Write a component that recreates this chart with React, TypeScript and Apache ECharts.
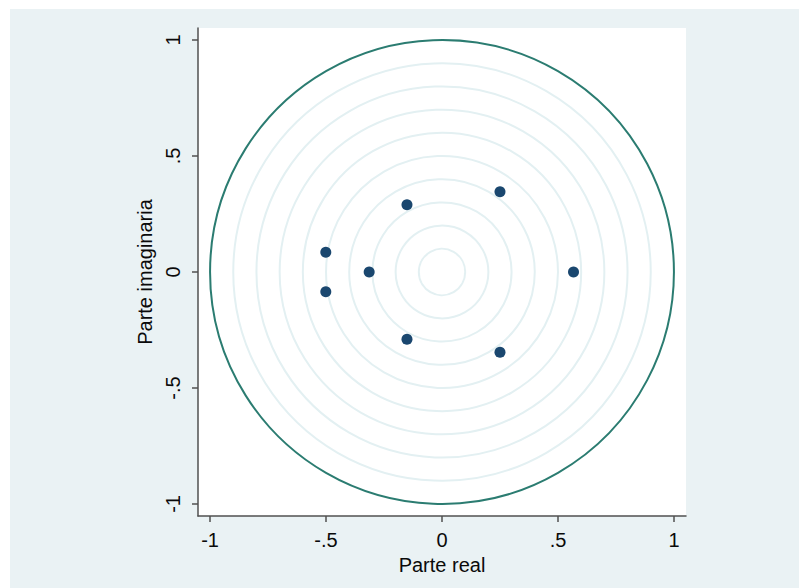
import React, { useEffect, useRef } from "react";
import * as echarts from "echarts";

const realParts = [0.567, 0.25, 0.25, -0.151, -0.151, -0.314, -0.501, -0.501];
const imagParts = [0, 0.346, -0.346, 0.29, -0.29, 0, 0.085, -0.085];
const gridRadii = [0.1, 0.2, 0.3, 0.4, 0.5, 0.6, 0.7, 0.8, 0.9];
const unitRadius = [1];
const tickValues = [-1, -0.5, 0, 0.5, 1];
const tickLabels = ["-1", "-.5", "0", ".5", "1"];

const FONT = "'Liberation Sans', Arial, Helvetica, sans-serif";

function fmt(v: number) {
  const i = tickValues.findIndex((t) => Math.abs(t - v) < 1e-9);
  return i >= 0 ? tickLabels[i] : "";
}

function circleSeries(radii: number[], color: string, width: number, z: number) {
  return {
    type: "custom",
    coordinateSystem: "cartesian2d",
    silent: true,
    z,
    data: radii.map((r) => [r, 0]),
    renderItem: (params: any, api: any) => {
      const c = api.coord([0, 0]);
      const r = api.size([api.value(0), 0])[0];
      return {
        type: "circle",
        shape: { cx: c[0], cy: c[1], r },
        style: { fill: "none", stroke: color, lineWidth: width },
      };
    },
  };
}

export default function App() {
  const ref = useRef<HTMLDivElement>(null);
  useEffect(() => {
    if (!ref.current) return;
    const chart = echarts.init(ref.current, null, { renderer: "svg" });
    const axisCommon = {
      type: "value",
      min: -1.052,
      max: 1.052,
      splitLine: { show: false },
      axisLine: { show: true, onZero: false, lineStyle: { color: "#505050", width: 1.5 } },
      axisTick: {
        show: true,
        customValues: tickValues,
        length: 6,
        lineStyle: { color: "#505050", width: 1.5 },
      },
      nameLocation: "middle",
      nameTextStyle: { fontFamily: FONT, fontSize: 20, color: "#0a0a0a" },
    };
    chart.setOption({
      animation: false,
      backgroundColor: "transparent",
      graphic: [
        {
          type: "rect",
          z: -10,
          silent: true,
          shape: { x: 10, y: 9, width: 789, height: 579 },
          style: { fill: "#eaf2f4" },
        },
      ],
      grid: {
        left: 198,
        top: 28,
        width: 488,
        height: 488,
        show: true,
        backgroundColor: "#ffffff",
        borderWidth: 0,
      },
      xAxis: {
        ...axisCommon,
        position: "bottom",
        name: "Parte real",
        nameGap: 35,
        axisLabel: {
          customValues: tickValues,
          formatter: fmt,
          margin: 14,
          fontFamily: FONT,
          fontSize: 20,
          color: "#0a0a0a",
        },
      },
      yAxis: {
        ...axisCommon,
        position: "left",
        name: "Parte imaginaria",
        nameGap: 41,
        nameRotate: 90,
        axisLabel: {
          customValues: tickValues,
          formatter: fmt,
          rotate: 90,
          margin: 15,
          fontFamily: FONT,
          fontSize: 20,
          color: "#0a0a0a",
        },
      },
      series: [
        circleSeries(gridRadii, "#e3f0f2", 2, 1),
        circleSeries(unitRadius, "#2b7c71", 2, 2),
        {
          type: "scatter",
          z: 5,
          symbol: "circle",
          symbolSize: 11,
          itemStyle: { color: "#1a476f", opacity: 1 },
          data: realParts.map((x, i) => [x, imagParts[i]]),
        },
      ],
    });
    return () => chart.dispose();
  }, []);
  return (
    <div
      ref={ref}
      style={{ position: "absolute", left: 0, top: 0, width: 799, height: 588 }}
    />
  );
}
